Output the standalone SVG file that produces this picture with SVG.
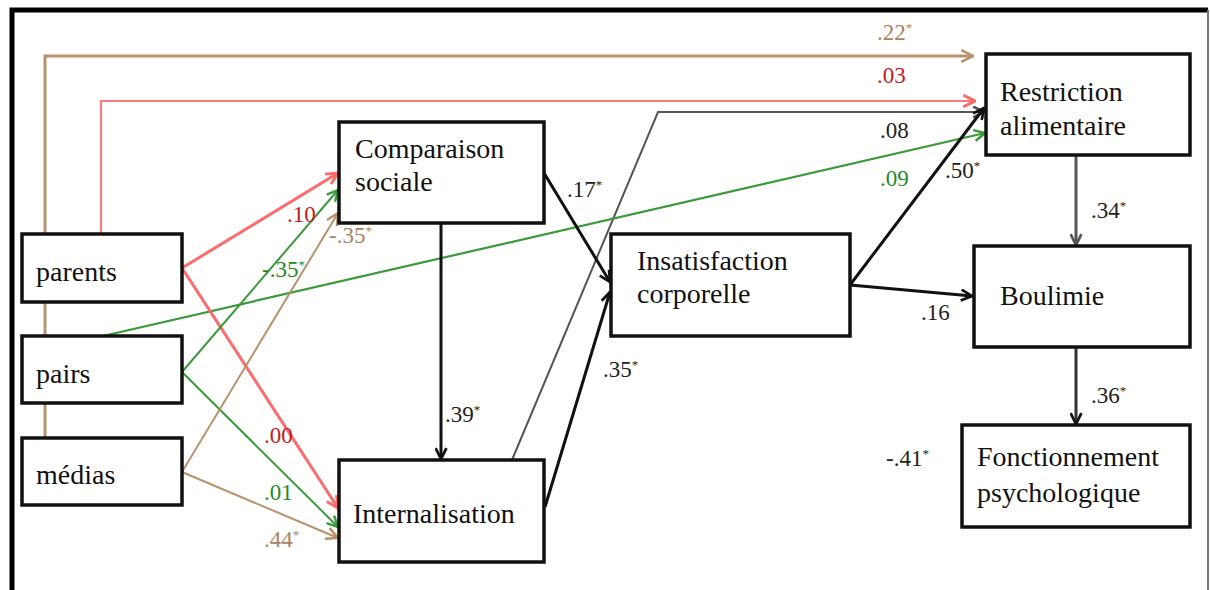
<svg xmlns="http://www.w3.org/2000/svg" width="1210" height="590" viewBox="0 0 1210 590">
<style>
.box{fill:#fff;stroke:#111;stroke-width:3.5}
.nt{font-family:'Liberation Serif','Times New Roman','DejaVu Serif',Tinos,serif;font-size:28px;fill:#111}
.lb{font-family:'Liberation Serif','Times New Roman','DejaVu Serif',Tinos,serif;font-size:23px;fill:#222}
.sup{font-size:13px}
.red{fill:#C81818}.grn{fill:#1E8C1E}.brn{fill:#A8835E}
.c{fill:none}
</style>
<defs>
<marker id="aK" viewBox="0 0 12 12" refX="11" refY="6" markerWidth="13" markerHeight="13" markerUnits="userSpaceOnUse" orient="auto"><path d="M1,1 L11,6 L1,11" fill="none" stroke="#111" stroke-width="2.5"/></marker>
<marker id="aG" viewBox="0 0 12 12" refX="11" refY="6" markerWidth="13" markerHeight="13" markerUnits="userSpaceOnUse" orient="auto"><path d="M1,1 L11,6 L1,11" fill="none" stroke="#555" stroke-width="2.5"/></marker>
<marker id="aR" viewBox="0 0 12 12" refX="11" refY="6" markerWidth="14" markerHeight="14" markerUnits="userSpaceOnUse" orient="auto"><path d="M1,1 L11,6 L1,11" fill="none" stroke="#FF6A6A" stroke-width="2.5"/></marker>
<marker id="aN" viewBox="0 0 12 12" refX="11" refY="6" markerWidth="13" markerHeight="13" markerUnits="userSpaceOnUse" orient="auto"><path d="M1,1 L11,6 L1,11" fill="none" stroke="#3A9A3A" stroke-width="2.2"/></marker>
<marker id="aB" viewBox="0 0 12 12" refX="11" refY="6" markerWidth="14" markerHeight="14" markerUnits="userSpaceOnUse" orient="auto"><path d="M1,1 L11,6 L1,11" fill="none" stroke="#B8926C" stroke-width="2.2"/></marker>
</defs>
<rect width="1210" height="590" fill="#fff"/>
<path d="M12,590 L12,10 L1208,10" fill="none" stroke="#000" stroke-width="5"/>
<path d="M1208,10 L1208,590" fill="none" stroke="#777" stroke-width="2"/>
<g id="connectors">
<path class="c" d="M45,437 L45,56 L973,56" stroke="#B8926C" stroke-width="3" marker-end="url(#aB)"/>
<path class="c" d="M101,234 L101,101 L975,101" stroke="#FF7A7A" stroke-width="2.2" marker-end="url(#aR)"/>
<path class="c" d="M512,460 L658,112 L984,112" stroke="#555" stroke-width="2" marker-end="url(#aG)"/>
<path class="c" d="M103,336 L985,133" stroke="#3A9A3A" stroke-width="2.2" marker-end="url(#aN)"/>
<path class="c" d="M182,268 L338,173" stroke="#FF6A6A" stroke-width="3" marker-end="url(#aR)"/>
<path class="c" d="M182,268 L338,508" stroke="#FF6A6A" stroke-width="3" marker-end="url(#aR)"/>
<path class="c" d="M182,372 L338,190" stroke="#3A9A3A" stroke-width="2" marker-end="url(#aN)"/>
<path class="c" d="M182,372 L338,527" stroke="#3A9A3A" stroke-width="2" marker-end="url(#aN)"/>
<path class="c" d="M182,472 L338,213" stroke="#B8926C" stroke-width="2" marker-end="url(#aB)"/>
<path class="c" d="M182,472 L338,538" stroke="#B8926C" stroke-width="2" marker-end="url(#aB)"/>
<path class="c" d="M441,223 L441,459" stroke="#111" stroke-width="3" marker-end="url(#aK)"/>
<path class="c" d="M544,173 L610,282" stroke="#111" stroke-width="3" marker-end="url(#aK)"/>
<path class="c" d="M545,507 L610,292" stroke="#111" stroke-width="3" marker-end="url(#aK)"/>
<path class="c" d="M850,285 L984,108" stroke="#111" stroke-width="3" marker-end="url(#aK)"/>
<path class="c" d="M850,285 L972,296" stroke="#111" stroke-width="3" marker-end="url(#aK)"/>
<path class="c" d="M1076,155 L1076,245" stroke="#555" stroke-width="3" marker-end="url(#aG)"/>
<path class="c" d="M1076,347 L1076,424" stroke="#333" stroke-width="3" marker-end="url(#aK)"/>
</g>
<g id="parents"><rect class="box" x="22" y="234" width="160" height="68"/><text class="nt" x="36" y="281">parents</text></g>
<g id="pairs"><rect class="box" x="22" y="336" width="160" height="67"/><text class="nt" x="36" y="383">pairs</text></g>
<g id="medias"><rect class="box" x="22" y="438" width="160" height="67"/><text class="nt" x="36" y="484">médias</text></g>
<g id="comparaison"><rect class="box" x="339" y="122" width="205" height="101"/><text class="nt" x="355" y="158">Comparaison</text><text class="nt" x="355" y="191">sociale</text></g>
<g id="internalisation"><rect class="box" x="339" y="460" width="205" height="102"/><text class="nt" x="353" y="523">Internalisation</text></g>
<g id="insatisfaction"><rect class="box" x="611" y="234" width="239" height="102"/><text class="nt" x="637" y="270">Insatisfaction</text><text class="nt" x="637" y="303">corporelle</text></g>
<g id="restriction"><rect class="box" x="986" y="54" width="204" height="101"/><text class="nt" x="1000" y="101">Restriction</text><text class="nt" x="1000" y="135">alimentaire</text></g>
<g id="boulimie"><rect class="box" x="974" y="246" width="216" height="101"/><text class="nt" x="1000" y="305">Boulimie</text></g>
<g id="fonctionnement"><rect class="box" x="962" y="425" width="228" height="102"/><text class="nt" x="977" y="466">Fonctionnement</text><text class="nt" x="977" y="502">psychologique</text></g>
<g id="labels">
<text class="lb brn" x="877" y="40">.22<tspan class="sup" dy="-8">*</tspan></text>
<text class="lb red" x="877" y="83">.03</text>
<text class="lb" x="880" y="138">.08</text>
<text class="lb grn" x="880" y="186">.09</text>
<text class="lb" x="945" y="178">.50<tspan class="sup" dy="-8">*</tspan></text>
<text class="lb red" x="287" y="222">.10</text>
<text class="lb brn" x="329" y="243">-.35<tspan class="sup" dy="-8">*</tspan></text>
<text class="lb grn" x="262" y="277">-.35<tspan class="sup" dy="-8">*</tspan></text>
<text class="lb" x="567" y="197">.17<tspan class="sup" dy="-8">*</tspan></text>
<text class="lb" x="445" y="422">.39<tspan class="sup" dy="-8">*</tspan></text>
<text class="lb" x="603" y="377">.35<tspan class="sup" dy="-8">*</tspan></text>
<text class="lb red" x="264" y="443">.00</text>
<text class="lb grn" x="264" y="500">.01</text>
<text class="lb brn" x="264" y="547">.44<tspan class="sup" dy="-8">*</tspan></text>
<text class="lb" x="921" y="320">.16</text>
<text class="lb" x="1091" y="218">.34<tspan class="sup" dy="-8">*</tspan></text>
<text class="lb" x="1091" y="403">.36<tspan class="sup" dy="-8">*</tspan></text>
<text class="lb" x="886" y="466">-.41<tspan class="sup" dy="-8">*</tspan></text>
</g>
</svg>
